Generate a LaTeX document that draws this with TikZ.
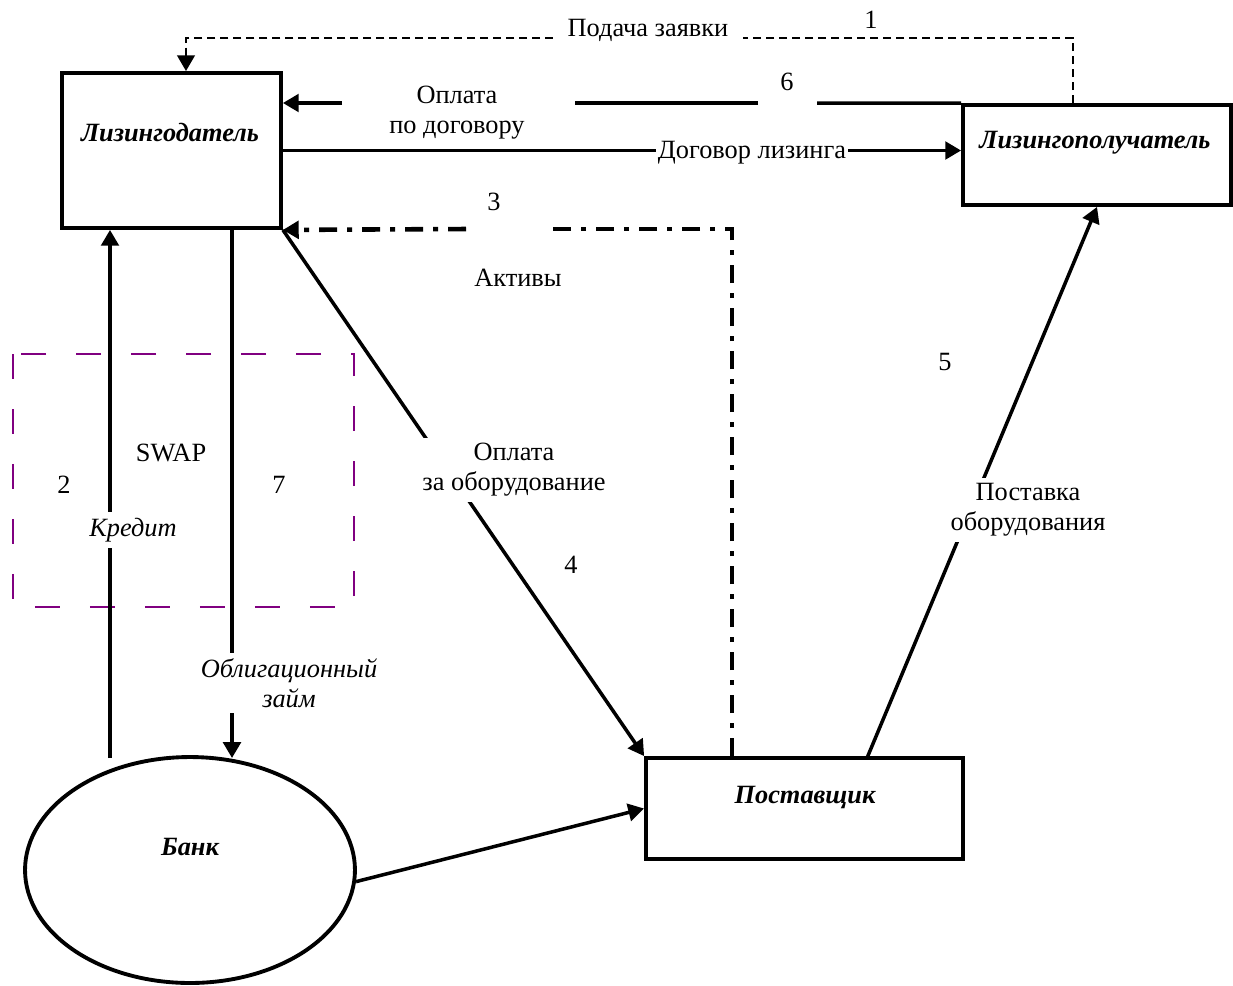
\documentclass[tikz,border=0pt]{standalone}
\usepackage{fontspec}
\setmainfont{Liberation Serif}
\usepackage{tikz}
\usetikzlibrary{arrows.meta,shapes.geometric,calc}
\definecolor{swapviolet}{RGB}{128,0,128}

\begin{document}
\begin{tikzpicture}[x=0.02cm,y=-0.02cm,font=\fontsize{15}{17}\selectfont,
  party/.style={draw,line width=2.2pt,inner sep=0pt},
  entity/.style={font=\fontsize{15}{17}\selectfont\bfseries\itshape},
  flow/.style={line width=2pt},
  req/.style={line width=1.5pt,dash pattern=on 0.17cm off 0.09cm},
  assets/.style={line width=2.6pt,dash pattern=on 0.36cm off 0.2cm on 0.1cm off 0.2cm},
  swapbox/.style={draw=swapviolet,line width=1pt,dash pattern=on 0.5cm off 0.6cm},
  gap/.style={fill=white},
  arr/.style={-{Triangle[length=9pt,width=10pt]}}]
  \useasboundingbox (0,0) rectangle (1233,985);

  \node[party,minimum width=4.38cm,minimum height=3.1cm] (lessor) at (171.5,150.5) {};
  \node[party,minimum width=5.36cm,minimum height=2cm] (recv) at (1097,155) {};
  \node[party,minimum width=6.34cm,minimum height=2.02cm] (supp) at (804.5,808.5) {};
  \node[party,ellipse,minimum width=6.6cm,minimum height=4.52cm] (bank) at (190,870) {};
  \node[entity] (lessorT) at (170,133) {Лизингодатель};
  \node[entity] (recvT) at (1095,143) {Лизингополучатель};
  \node[entity] (suppT) at (805,797) {Поставщик};
  \node[entity] (bankT) at (190,847) {Банк};

  \draw[swapbox] (13,354) rectangle (354,607);
  \node (swapT) at (171,453) {SWAP};

  \coordinate (reqR) at (1073,38);
  \coordinate (reqL) at (186,38);
  \draw[req,arr] (reqR |- recv.north) -- (reqR) -- (reqL) -- (reqL |- lessor.north);
  \node[gap,minimum width=3.82cm] (reqT) at (648,30) {Подача заявки};
  \node (reqN) at (871,20) {1};

  \coordinate (payA) at (342,103);
  \coordinate (payB) at (575,103);
  \coordinate (payC) at (758,103);
  \coordinate (payD) at (817,103);
  \draw[flow] (recv.north west) -- (payD);
  \draw[flow] (payC) -- (payB);
  \draw[flow,arr] (payA) -- (lessor.east |- payA);
  \node[align=center] (payT) at (457,113) {Оплата\\по договору};
  \node (payN) at (787,82) {6};

  \draw[flow,arr] (lessor.east) -- (lessor.east -| recv.west);
  \node[gap,inner sep=1pt] (contT) at (752,153) {Договор лизинга};

  \coordinate (actC) at (732,229);
  \coordinate (actA) at (466,229);
  \coordinate (actB) at (546,229);
  \draw[assets] (actC |- supp.north) -- (actC) -- (actB);
  \draw[assets,arr] (actA) -- (lessor.south east);
  \node (actN) at (494,202) {3};
  \node (actT) at (518,278) {Активы};

  \draw[flow,arr] (lessor.south east) -- (supp.north west);
  \node[gap,align=center] (eqpT) at (514,470) {Оплата\\за оборудование};
  \node (eqpN) at (571,565) {4};

  \coordinate (delB) at (867,758);
  \draw[flow,arr] (delB) -- (recv.south);
  \node[gap,align=center] (delT) at (1028,510) {Поставка\\оборудования};
  \node (delN) at (945,362) {5};

  \coordinate (credB) at (110,758);
  \draw[flow,arr] (credB) -- (credB |- lessor.south);
  \node[gap,font=\fontsize{15}{17}\selectfont\itshape] (credT) at (133,530) {Кредит};
  \node (credN) at (64,485) {2};

  \coordinate (bondB) at (232,758);
  \draw[flow,arr] (bondB |- lessor.south) -- (bondB);
  \node[gap,align=center,font=\fontsize{15}{17}\selectfont\itshape] (bondT) at (289,683) {Облигационный\\займ};
  \node (bondN) at (279,485) {7};

  \draw[flow,arr] (bank.-4.5) -- (supp.west);
\end{tikzpicture}
\end{document}
